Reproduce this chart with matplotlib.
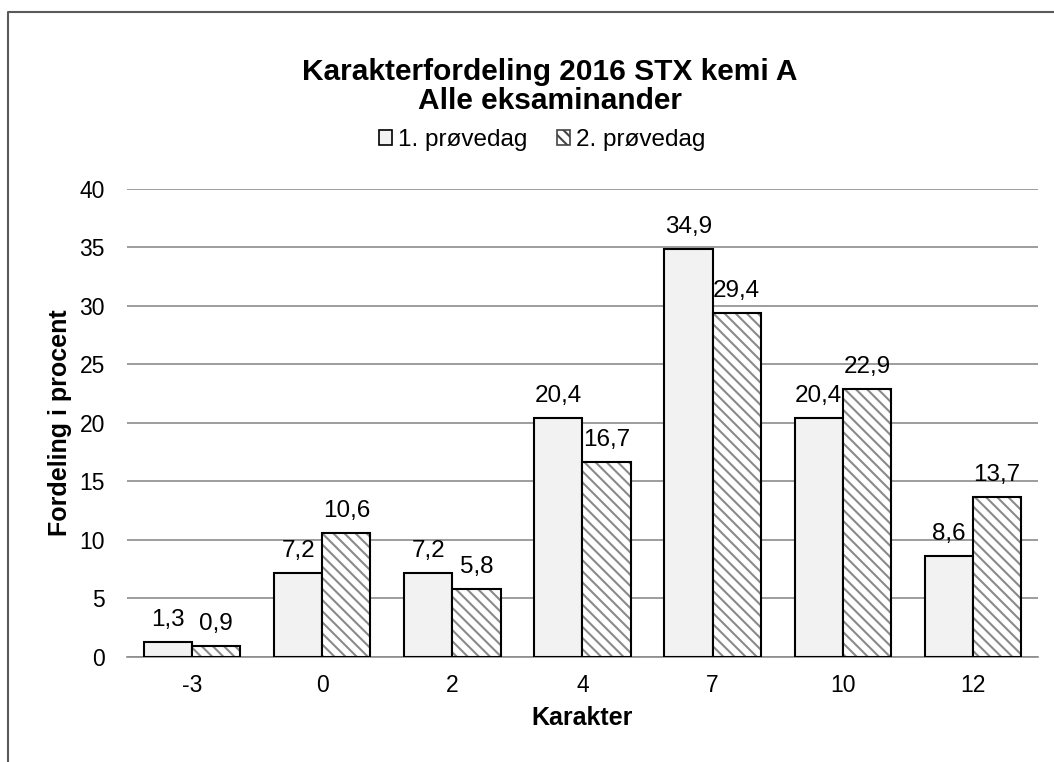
import numpy as np
import matplotlib
matplotlib.use('Agg')
import matplotlib.pyplot as plt
from matplotlib.lines import Line2D

plt.rcParams['font.family'] = ['Liberation Sans', 'DejaVu Sans']
plt.rcParams['hatch.linewidth'] = 1.5

karakterer = ['-3', '0', '2', '4', '7', '10', '12']
dag1 = [1.3, 7.2, 7.2, 20.4, 34.9, 20.4, 8.6]
dag2 = [0.9, 10.6, 5.8, 16.7, 29.4, 22.9, 13.7]
navne = ['1. prøvedag', '2. prøvedag']

fig = plt.figure(figsize=(10.54, 7.62), dpi=100)
ax = fig.add_axes([0.1205, 0.1378, 0.8643, 0.6142])

x = np.arange(len(karakterer))
w = 0.37

b1 = ax.bar(x - w / 2, dag1, w, color='#f2f2f2', edgecolor='black', linewidth=1.5, zorder=3)
# hatch first in grey, then black outline on top
ax.bar(x + w / 2, dag2, w, color='white', edgecolor='#8a8a8a', hatch='\\\\\\', linewidth=0, zorder=3)
b2 = ax.bar(x + w / 2, dag2, w, color='none', edgecolor='black', linewidth=1.5, zorder=4)

for bars, vals in ((b1, dag1), (b2, dag2)):
    for r, v in zip(bars, vals):
        ax.annotate(f'{v:.1f}'.replace('.', ','), (r.get_x() + r.get_width() / 2, v),
                    xytext=(0, 11.5), textcoords='offset points',
                    ha='center', va='baseline', fontsize=17.5, zorder=5)

ax.set_xlim(-0.5, len(karakterer) - 0.5)
ax.set_ylim(0, 40)
ax.set_yticks(np.arange(0, 41, 5))
ax.set_xticks(x)
ax.set_xticklabels(karakterer)
ax.tick_params(axis='both', length=0, labelsize=16.5)
ax.tick_params(axis='y', pad=16)
ax.tick_params(axis='x', pad=12)
ax.grid(axis='y', color='#8c8c8c', linewidth=1.2, zorder=0)
ax.set_axisbelow(True)
for s in ['left', 'right', 'top']:
    ax.spines[s].set_visible(False)
ax.spines['bottom'].set_color('#8c8c8c')
ax.spines['bottom'].set_linewidth(1.2)

fig.text(550 / 1054, 1 - 72 / 762, 'Karakterfordeling 2016 STX kemi A',
         ha='center', va='center', fontsize=21.5, fontweight='bold')
fig.text(550 / 1054, 1 - 101 / 762, 'Alle eksaminander',
         ha='center', va='center', fontsize=21.5, fontweight='bold')

h1 = plt.Rectangle((0, 0), 1, 1, facecolor='#f2f2f2', edgecolor='black', linewidth=1.2)
h2 = plt.Rectangle((0, 0), 1, 1, facecolor='white', edgecolor='#444444', hatch='\\\\\\', linewidth=1.2)
fig.legend([h1, h2], navne, loc='center', bbox_to_anchor=(542 / 1054, 1 - 140 / 762),
           ncol=2, frameon=False, fontsize=17.5, handlelength=0.55, handleheight=0.55,
           handletextpad=0.25, columnspacing=1.2)

fig.text(60 / 1054, 1 - 423 / 762, 'Fordeling i procent', rotation=90,
         ha='center', va='center', fontsize=18, fontweight='bold')
fig.text(582 / 1054, 1 - 718 / 762, 'Karakter', ha='center', va='center',
         fontsize=18, fontweight='bold')

# outer chart frame (only top and left visible in crop)
fig.add_artist(Line2D([8 / 1054, 8 / 1054, 1], [0, 1 - 12 / 762, 1 - 12 / 762],
                      transform=fig.transFigure, color='#5a5a5a', linewidth=1.5))

fig.savefig('out.png', dpi=100)
